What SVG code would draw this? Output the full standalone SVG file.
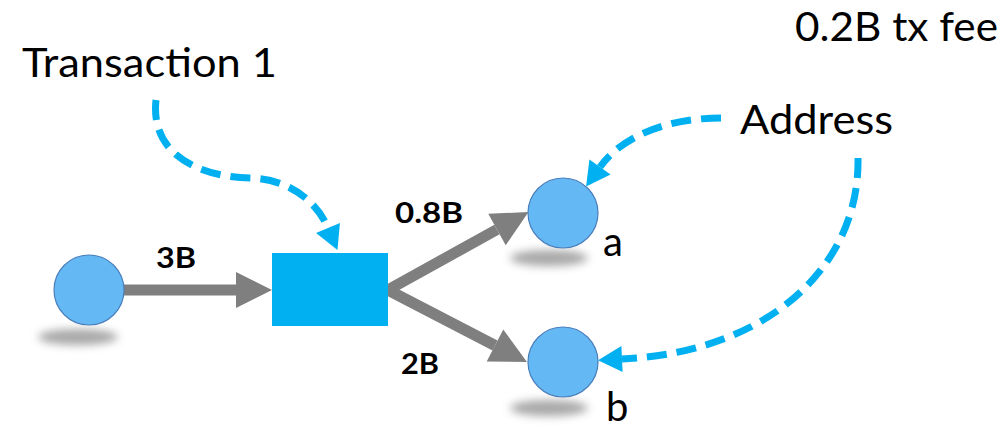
<svg xmlns="http://www.w3.org/2000/svg" width="1007" height="430" viewBox="0 0 1007 430">
  <style>
    .label { font-family: Lato, "Noto Sans", sans-serif; font-size: 40px; fill: #000; }
    .amount { font-family: Lato, "Noto Sans", sans-serif; font-size: 29px; font-weight: bold; fill: #000; }
    .addr { fill: #64B9F4; stroke: #4A7EBB; stroke-width: 1.2; }
    .shadow { fill: #8c8c8c; opacity: 0.75; filter: url(#soft); }
    .flow { stroke: #7F7F7F; stroke-width: 11; fill: none; marker-end: url(#grayHead); }
    .pointer { stroke: #00B0F0; stroke-width: 7; fill: none; stroke-dasharray: 20 10; marker-end: url(#blueHead); }
  </style>
  <defs>
    <filter id="soft" x="-50%" y="-200%" width="200%" height="500%">
      <feGaussianBlur stdDeviation="4"/>
    </filter>
    <marker id="grayHead" markerUnits="userSpaceOnUse" markerWidth="40" markerHeight="40" refX="0" refY="20" orient="auto" overflow="visible">
      <path d="M0,2 L36,20 L0,38 z" fill="#7F7F7F"/>
    </marker>
    <marker id="blueHead" markerUnits="userSpaceOnUse" markerWidth="30" markerHeight="30" refX="0" refY="15" orient="auto" overflow="visible">
      <path d="M0,2 L24,15 L0,28 z" fill="#00B0F0"/>
    </marker>
  </defs>

  <!-- value flows and annotation pointers -->
  <g id="connectors">
    <line class="flow" x1="124" y1="290" x2="236" y2="290"/>
    <line class="flow" x1="386" y1="291" x2="497" y2="229.5"/>
    <line class="flow" x1="386" y1="289" x2="495" y2="345.5"/>
    <path class="pointer" d="M156,100 C150,155 200,177 250,178 C288,179 316,200 328,228"/>
    <path class="pointer" d="M721,118 C668,118 622,136 600,167"/>
    <path class="pointer" d="M858,158 C860,265 770,352 622,359"/>
  </g>

  <g id="sender">
    <ellipse class="shadow" cx="78" cy="337" rx="40" ry="8"/>
    <circle class="addr" cx="89" cy="290" r="35"/>
  </g>

  <g id="transaction">
    <rect x="272" y="253" width="116" height="73" fill="#00B0F0"/>
  </g>

  <g id="address-a">
    <ellipse class="shadow" cx="549" cy="258" rx="39" ry="8"/>
    <circle class="addr" cx="563" cy="213" r="35"/>
    <text class="label" x="603" y="256">a</text>
  </g>

  <g id="address-b">
    <ellipse class="shadow" cx="549" cy="408" rx="39" ry="8"/>
    <circle class="addr" cx="563" cy="362" r="35"/>
    <text class="label" x="606" y="421">b</text>
  </g>

  <g id="labels">
    <text class="label" x="22" y="77" textLength="255" lengthAdjust="spacingAndGlyphs">Transaction 1</text>
    <text class="label" x="795" y="41" textLength="203" lengthAdjust="spacingAndGlyphs">0.2B tx fee</text>
    <text class="label" x="740" y="134" textLength="153" lengthAdjust="spacingAndGlyphs">Address</text>
    <text class="amount" x="156" y="268" textLength="40" lengthAdjust="spacingAndGlyphs">3B</text>
    <text class="amount" x="395" y="223" textLength="68" lengthAdjust="spacingAndGlyphs">0.8B</text>
    <text class="amount" x="401" y="374" textLength="38" lengthAdjust="spacingAndGlyphs">2B</text>
  </g>
</svg>
